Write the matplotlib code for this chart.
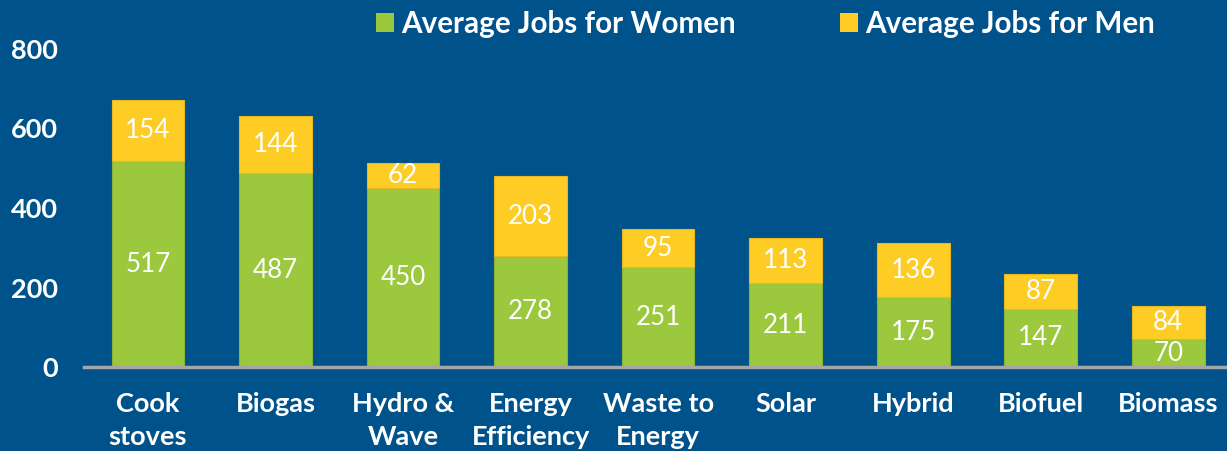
import matplotlib.pyplot as plt
from matplotlib.patches import Patch
import numpy as np

categories = ["Cook\nstoves", "Biogas", "Hydro &\nWave", "Energy\nEfficiency",
              "Waste to\nEnergy", "Solar", "Hybrid", "Biofuel", "Biomass"]
women = [517, 487, 450, 278, 251, 211, 175, 147, 70]
men = [154, 144, 62, 203, 95, 113, 136, 87, 84]

bg = "#00528A"
green = "#9BC83D"
yellow = "#FDCD25"

plt.rcParams['font.family'] = ['Lato', 'DejaVu Sans']

fig = plt.figure(figsize=(12.27, 4.51), dpi=100, facecolor=bg)
ax = fig.add_axes([84.25 / 1227, (451 - 367) / 451, (1232 - 84.25) / 1227, (367 - 49) / 451])
ax.set_facecolor(bg)

x = np.arange(len(categories))
w = 0.57
b1 = ax.bar(x, women, w, color=green, edgecolor="#8DB33A", linewidth=0.8)
b2 = ax.bar(x, men, w, bottom=women, color=yellow, edgecolor="#E8B820", linewidth=0.8)

for rects, vals, base in [(b1, women, [0] * len(women)), (b2, men, women)]:
    for r, v, b0 in zip(rects, vals, base):
        ax.text(r.get_x() + r.get_width() / 2, b0 + v / 2, str(v),
                ha="center", va="center", color="white", fontsize=18.7)

ax.set_xlim(-0.5, 8.5)
ax.set_ylim(0, 800)
ax.set_yticks([0, 200, 400, 600, 800])
ax.set_xticks(x)
ax.set_xticklabels(categories, linespacing=1.45)
ax.tick_params(axis="both", length=0, colors="white", labelsize=19.5)
ax.tick_params(axis="y", pad=19)
ax.tick_params(axis="x", pad=18)
for lab in ax.get_xticklabels() + ax.get_yticklabels():
    lab.set_fontweight("bold")

for s in ["top", "right", "left"]:
    ax.spines[s].set_visible(False)
ax.spines["bottom"].set_color("#A6A6A6")
ax.spines["bottom"].set_linewidth(2.5)

handles = [Patch(facecolor=green, label="Average Jobs for Women"),
           Patch(facecolor=yellow, label="Average Jobs for Men")]
fig.legend(handles=handles, loc="center left", bbox_to_anchor=(376 / 1227, 1 - 23.5 / 451),
           ncol=2, frameon=False, borderpad=0, borderaxespad=0,
           handlelength=0.62, handleheight=0.62, handletextpad=0.24, columnspacing=3.5,
           prop={"weight": "bold", "size": 21.3}, labelcolor="white")

fig.savefig("out.png", dpi=100, facecolor=bg)
